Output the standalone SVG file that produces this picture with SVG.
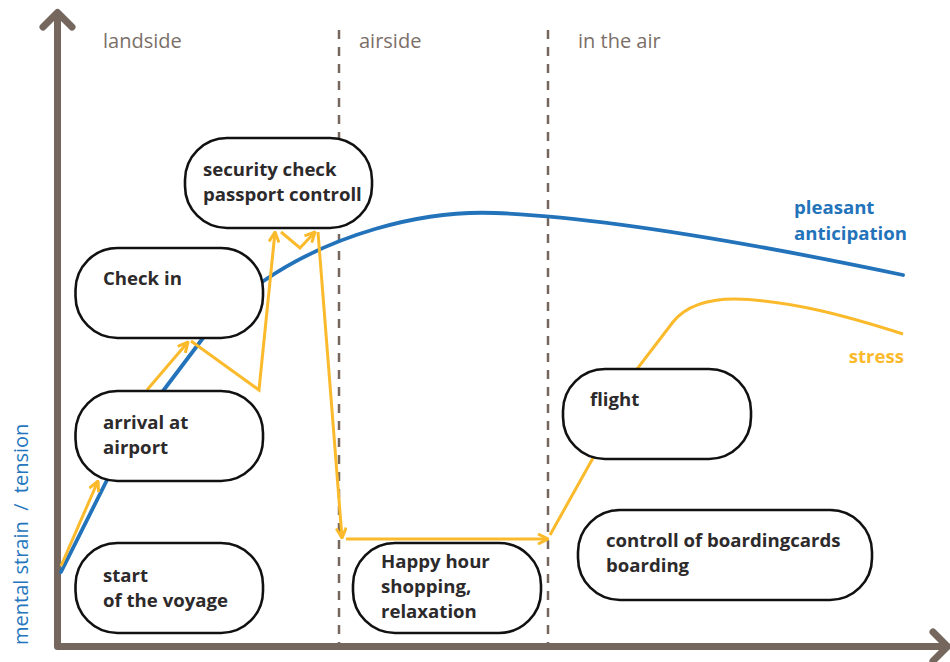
<svg xmlns="http://www.w3.org/2000/svg" width="950" height="662" viewBox="0 0 950 662">
  <style>
    .axis { fill: none; stroke: #75675e; stroke-width: 7; stroke-linecap: round; stroke-linejoin: round; }
    .zone { fill: none; stroke: #75675e; stroke-width: 2.5; stroke-dasharray: 9 8; }
    .zonelabel { font-family: "Open Sans", "DejaVu Sans", sans-serif; font-size: 20px; fill: #7b6f68; }
    .node rect { fill: #ffffff; stroke: #111111; stroke-width: 2.6; }
    .node text { font-family: "Open Sans", "DejaVu Sans", sans-serif; font-weight: 700; font-size: 18.6px; fill: #2d2a2b; }
    .blue { fill: none; stroke: #2373bb; stroke-width: 3.8; stroke-linecap: round; stroke-linejoin: round; }
    .yellow { fill: none; stroke: #fbba2b; stroke-width: 3; stroke-linejoin: miter; }
    .serieslabel { font-family: "Open Sans", "DejaVu Sans", sans-serif; font-weight: 700; font-size: 18.6px; }
    .ylabel { font-family: "Open Sans", "DejaVu Sans", sans-serif; font-size: 20px; fill: #2576bd; }
  </style>
  <defs>
    <marker id="chev" viewBox="0 0 12 12" refX="11" refY="6" markerWidth="12" markerHeight="12" markerUnits="userSpaceOnUse" orient="auto">
      <path d="M1,1 L11,6 L1,11" fill="none" stroke="#fbba2b" stroke-width="3"/>
    </marker>
  </defs>

  <!-- axes -->
  <g id="axes">
    <path class="axis" d="M57.5,14 L57.5,646.5 L944,646.5"/>
    <polyline class="axis" points="43,27 57.5,12.5 72,27"/>
    <polyline class="axis" points="933,632 947.5,646.5 933,661"/>
  </g>

  <!-- zone separators -->
  <g id="zones">
    <line class="zone" x1="339" y1="30" x2="339" y2="646"/>
    <line class="zone" x1="548" y1="30" x2="548" y2="646"/>
    <text class="zonelabel" x="103" y="48">landside</text>
    <text class="zonelabel" x="359" y="48">airside</text>
    <text class="zonelabel" x="578" y="48">in the air</text>
  </g>

  <!-- curves and arrows -->
  <g id="connectors">
    <path class="blue" d="M61,572 L107,480 L163,391 L203,338 L262,282 C330,235 420,210 495,213 C600,217 760,245 903,275"/>
    <line class="yellow" x1="61" y1="566" x2="98" y2="481" marker-end="url(#chev)"/>
    <line class="yellow" x1="147" y1="390" x2="188" y2="342" marker-end="url(#chev)"/>
    <polyline class="yellow" points="191,341 259,390 275,232" marker-end="url(#chev)"/>
    <polyline class="yellow" points="281,232 300,248 315,232" marker-end="url(#chev)"/>
    <line class="yellow" x1="318" y1="232" x2="342" y2="538" marker-end="url(#chev)"/>
    <line class="yellow" x1="346" y1="539" x2="548" y2="539" marker-end="url(#chev)"/>
    <path class="yellow" d="M550,535 L593,458 L637,369 L673,322 C685,307 705,299 735,299 C790,300 850,317 903,334"/>
  </g>

  <!-- nodes -->
  <g id="node-start" class="node">
    <rect x="75.5" y="543" width="187.5" height="90" rx="42"/>
    <text x="103" y="582">start</text>
    <text x="103" y="607">of the voyage</text>
  </g>
  <g id="node-arrival" class="node">
    <rect x="75.5" y="391" width="187.5" height="90" rx="42"/>
    <text x="103" y="429">arrival at</text>
    <text x="103" y="454">airport</text>
  </g>
  <g id="node-checkin" class="node">
    <rect x="75.5" y="248" width="187.5" height="90" rx="42"/>
    <text x="103" y="285">Check in</text>
  </g>
  <g id="node-security" class="node">
    <rect x="185" y="138" width="187" height="90" rx="42"/>
    <text x="203" y="176">security check</text>
    <text x="203" y="201">passport controll</text>
  </g>
  <g id="node-happyhour" class="node">
    <rect x="353" y="543" width="188" height="90" rx="42"/>
    <text x="381" y="568">Happy hour</text>
    <text x="381" y="593">shopping,</text>
    <text x="381" y="618">relaxation</text>
  </g>
  <g id="node-flight" class="node">
    <rect x="563" y="369" width="188" height="90" rx="42"/>
    <text x="590" y="406">flight</text>
  </g>
  <g id="node-boarding" class="node">
    <rect x="578" y="510" width="294" height="90" rx="42"/>
    <text x="606" y="547">controll of boardingcards</text>
    <text x="606" y="572">boarding</text>
  </g>

  <!-- series and axis labels -->
  <g id="labels">
    <text class="serieslabel" x="794" y="214" fill="#2373bb">pleasant</text>
    <text class="serieslabel" x="794" y="240" fill="#2373bb">anticipation</text>
    <text class="serieslabel" x="904" y="363" fill="#fbba2b" text-anchor="end">stress</text>
    <text class="ylabel" transform="translate(28,645) rotate(-90)" xml:space="preserve">mental strain  /  tension</text>
  </g>
</svg>
